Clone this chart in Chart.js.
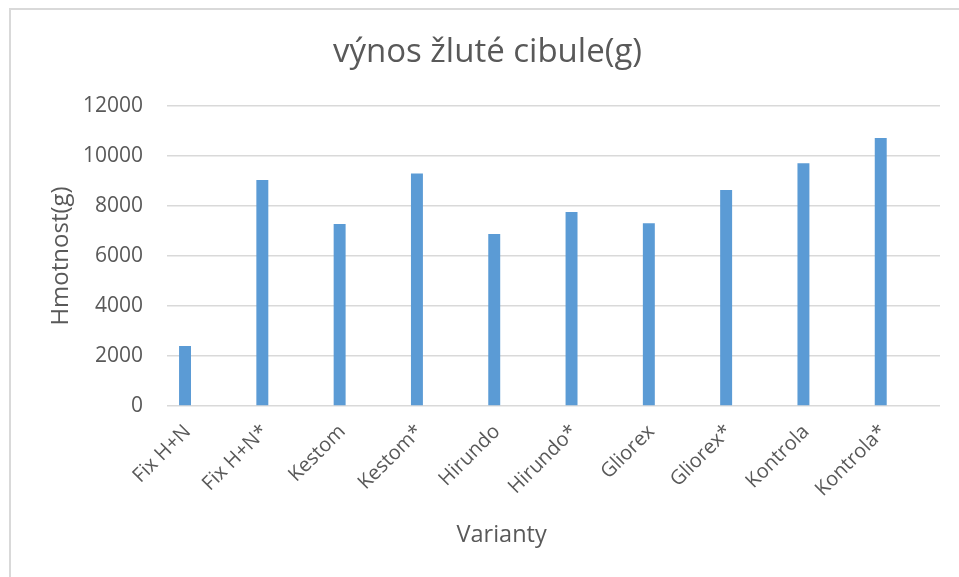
<!DOCTYPE html>
<html>
<head>
<meta charset="utf-8">
<script src="https://cdn.jsdelivr.net/npm/chart.js@4"></script>
<style>
	html, body { margin: 0; padding: 0; background: #fff; overflow: hidden; }
	#wrap { position: absolute; left: 0; top: 0; width: 959px; height: 577px; }
	#frame { position: absolute; left: 9px; top: 8px; width: 1000px; height: 600px;
		border-left: 2px solid #d9d9d9; border-top: 2px solid #d9d9d9; pointer-events: none; }
</style>
</head>
<body>
<div id="wrap"><canvas id="myChart" width="959" height="577"></canvas></div>
<div id="frame"></div>
<script>
let varianty = ["Fix H+N", "Fix H+N*", "Kestom", "Kestom*", "Hirundo", "Hirundo*", "Gliorex", "Gliorex*", "Kontrola", "Kontrola*"];
let vynos = [2400, 9040, 7280, 9300, 6880, 7760, 7310, 8640, 9710, 10720];
// prazdne rady jako v puvodnim grafu z Excelu
let rada2 = [null, null, null, null, null, null, null, null, null, null];
let rada3 = [null, null, null, null, null, null, null, null, null, null];
let bounds = [0, 12000];

let grey = "#595959";
let font = "Open Sans";

Chart.defaults.font.family = font;
Chart.defaults.color = grey;

function makeGraph(){
	let chart = new Chart("myChart", {
		type: "bar",
		data: {
			labels: varianty,
			datasets: [{
				label: "Řada1",
				data: vynos,
				backgroundColor: "#5b9bd5",
				categoryPercentage: 0.8,
				barPercentage: 0.58
			}, {
				label: "Řada2",
				data: rada2,
				backgroundColor: "#ed7d31",
				categoryPercentage: 0.8,
				barPercentage: 0.58
			}, {
				label: "Řada3",
				data: rada3,
				backgroundColor: "#a5a5a5",
				categoryPercentage: 0.8,
				barPercentage: 0.58
			}]
		},
		options: {
			responsive: false,
			animation: false,
			layout: { padding: { left: 35, right: 19, top: 0, bottom: 0 } },
			plugins: {
				legend: { display: false },
				tooltip: { enabled: false },
				title: {
					display: true,
					text: "výnos žluté cibule(g)",
					color: grey,
					font: { size: 33, weight: "normal" },
					padding: { top: 33, bottom: 33.4 }
				}
			},
			scales: {
				x: {
					grid: { display: false },
					border: { display: false },
					ticks: {
						minRotation: 45,
						maxRotation: 45,
						labelOffset: -18,
						padding: 6,
						font: { size: 20 },
						color: grey
					},
					title: {
						display: true,
						// mezery posunou popisek doleva jako v Excelu
						text: "Varianty" + "\u00a0".repeat(17),
						color: grey,
						font: { size: 23.5 },
						padding: { top: 0, bottom: 28 }
					},
					afterFit: function(scale){ scale.height = 171; }
				},
				y: {
					min: bounds[0],
					max: bounds[1],
					grid: { color: "#d9d9d9", lineWidth: 1.5, drawTicks: false },
					border: { display: false },
					ticks: {
						stepSize: 2000,
						padding: 24,
						font: { size: 21 },
						color: grey,
						callback: function(value){ return String(value); }
					},
					title: {
						display: true,
						text: "Hmotnost(g)",
						color: grey,
						font: { size: 24 },
						padding: { top: 12, bottom: 0 }
					},
					afterFit: function(scale){ scale.width = 132; }
				}
			}
		}
	});
}

makeGraph();
</script>
</body>
</html>
